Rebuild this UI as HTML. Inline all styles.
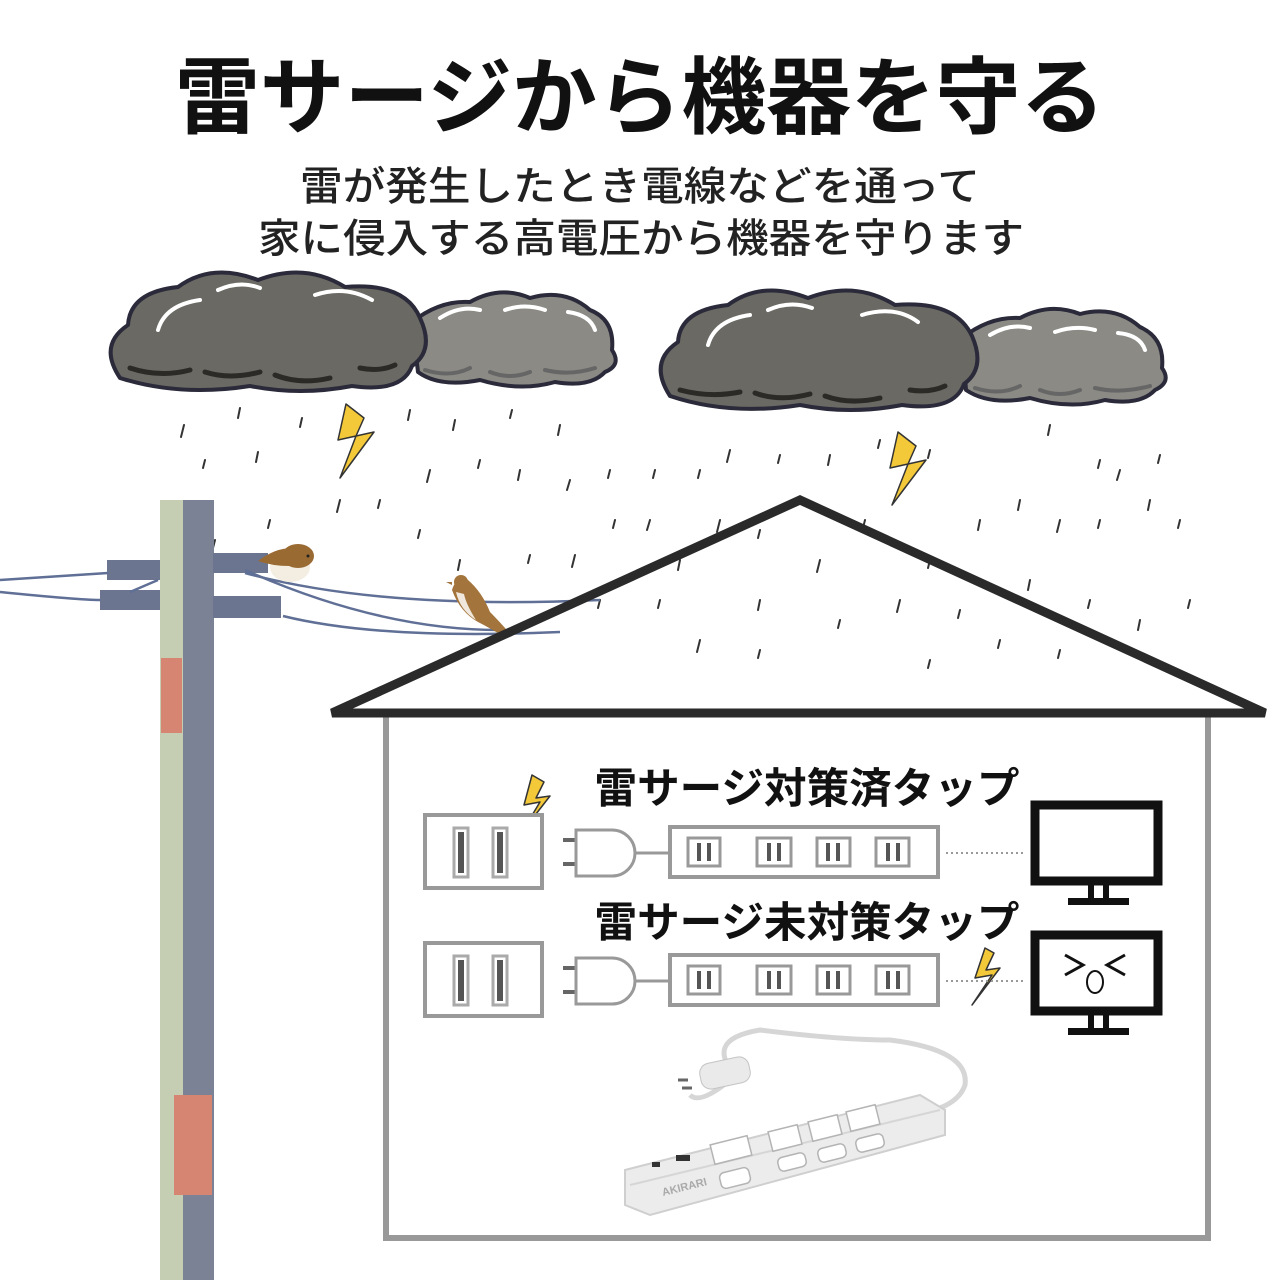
<!DOCTYPE html>
<html><head><meta charset="utf-8"><style>
html,body{margin:0;padding:0;background:#fff;}
svg{display:block}
text{font-family:"Liberation Sans","Noto Sans CJK JP",sans-serif;font-weight:bold;}
</style></head><body>
<svg width="1280" height="1280" viewBox="0 0 1280 1280" xmlns="http://www.w3.org/2000/svg">
<rect width="1280" height="1280" fill="#fff"/>
<text x="640" y="127" font-size="84" text-anchor="middle" fill="#111" textLength="930" lengthAdjust="spacingAndGlyphs">雷サージから機器を守る</text>
<text x="640" y="200" font-size="40" style="font-weight:500" text-anchor="middle" fill="#222" textLength="680" lengthAdjust="spacingAndGlyphs">雷が発生したとき電線などを通って</text>
<text x="641" y="252" font-size="40" style="font-weight:500" text-anchor="middle" fill="#222" textLength="766" lengthAdjust="spacingAndGlyphs">家に侵入する高電圧から機器を守ります</text>

<g stroke="#2a2a3a" stroke-width="4" stroke-linejoin="round">
<path d="M412,322 Q440,300 470,302 Q500,285 530,298 Q565,288 590,310 Q615,320 612,350 Q622,365 605,372 Q590,388 555,382 Q520,392 480,380 Q440,388 418,372 Z" fill="#8b8a85"/>
<path d="M120,378 Q98,345 128,325 Q130,292 178,287 Q212,262 258,280 Q305,262 345,287 Q405,282 420,318 Q435,350 412,366 Q402,393 352,386 Q300,396 250,386 Q180,397 120,378 Z" fill="#6a6963"/>
<path d="M962,338 Q990,316 1020,318 Q1050,302 1080,314 Q1115,305 1140,327 Q1165,338 1162,368 Q1172,382 1155,390 Q1140,406 1105,400 Q1070,410 1030,398 Q990,406 966,390 Z" fill="#8b8a85"/>
<path d="M670,396 Q648,362 678,342 Q680,310 728,305 Q762,280 808,298 Q855,280 895,305 Q955,300 972,336 Q986,368 964,384 Q954,412 902,405 Q850,415 800,405 Q730,416 670,396 Z" fill="#6a6963"/>
</g>
<g fill="none" stroke="#fff" stroke-width="4" stroke-linecap="round">
<path d="M158,330 Q165,305 200,300"/><path d="M218,290 Q240,280 260,288"/><path d="M315,295 Q345,285 372,300"/>
<path d="M440,318 Q460,305 480,310"/><path d="M505,310 Q525,303 545,310"/><path d="M568,312 Q590,315 595,330"/>
<path d="M708,345 Q715,320 750,315"/><path d="M768,310 Q790,300 812,308"/><path d="M862,315 Q895,305 918,322"/>
<path d="M990,335 Q1010,323 1030,328"/><path d="M1055,332 Q1075,325 1095,330"/><path d="M1118,333 Q1140,335 1145,350"/>
</g>
<g fill="none" stroke="#2b2a26" stroke-width="5" stroke-linecap="round">
<path d="M130,368 Q160,378 190,370"/><path d="M205,372 Q230,380 260,372"/><path d="M275,375 Q300,385 330,378"/><path d="M360,368 Q380,372 395,365"/>
<path d="M680,390 Q710,398 740,392"/><path d="M755,393 Q780,402 810,394"/><path d="M825,396 Q850,405 880,398"/><path d="M910,390 Q930,393 945,386"/>
</g>
<g fill="none" stroke="#666" stroke-width="4" stroke-linecap="round">
<path d="M425,370 Q450,378 470,368"/><path d="M490,372 Q510,380 530,372"/><path d="M545,370 Q570,376 595,368"/>
<path d="M975,388 Q1000,396 1020,386"/><path d="M1040,390 Q1060,398 1080,390"/><path d="M1095,388 Q1120,394 1150,386"/>
</g>

<g stroke="#333" stroke-width="2" stroke-linecap="round">
<path d="M184,425l-3,12M240,408l-2,10M302,418l-2,9M258,452l-2,10M410,410l-2,10M455,420l-2,10M512,410l-2,8M560,425l-2,10M205,460l-2,8M185,535l-3,12M215,540l-2,8M270,520l-2,8M340,500l-3,12M380,500l-2,8M430,470l-3,12M480,460l-2,8M520,470l-2,10M570,480l-3,10M610,470l-2,8M420,530l-2,8M460,560l-2,10M530,555l-2,8M575,555l-3,12M615,520l-2,8M650,520l-3,10M655,470l-2,8M700,470l-2,8M730,450l-3,12M780,455l-2,8M830,455l-2,10M880,440l-2,8M930,450l-2,8M1050,425l-2,10M1100,460l-2,8M1120,470l-3,10M1160,455l-2,8M720,520l-3,12M760,530l-2,8M820,560l-3,12M865,520l-2,8M930,560l-2,8M980,520l-2,10M1020,500l-2,10M1060,520l-3,12M1100,520l-2,8M1150,500l-2,10M1180,520l-2,8M700,640l-3,12M760,600l-2,10M840,620l-2,8M900,600l-3,12M960,610l-2,8M1030,580l-2,10M1090,600l-2,8M1140,620l-2,10M1190,600l-2,8M660,600l-2,8M600,600l-2,8M680,560l-2,10M1000,640l-2,8M1060,650l-2,8M930,660l-2,8M760,650l-2,8"/>
</g>
<g fill="#f3c93a" stroke="#333" stroke-width="1.5" stroke-linejoin="round">
<path d="M346,404 L338,440 L356,436 L340,478 L374,432 L356,436 L364,418 Z"/>
<path d="M898,432 L890,468 L908,464 L892,505 L926,460 L908,464 L916,446 Z"/>
<path d="M532,775 L524,805 L540,802 L522,832 L550,796 L536,798 L544,782 Z"/>
<path d="M985,948 L975,978 L992,975 L972,1005 L1000,968 L986,970 L994,953 Z"/>
</g>

<rect x="160" y="500" width="26" height="780" fill="#c5ceb2"/>
<rect x="183" y="500" width="31" height="780" fill="#7b8296"/>
<rect x="161" y="658" width="21" height="75" fill="#d58572"/>
<rect x="174" y="1095" width="38" height="100" fill="#d58572"/>
<g fill="#6b7590">
<rect x="107" y="560" width="53" height="20"/>
<rect x="213" y="553" width="55" height="20"/>
<rect x="100" y="590" width="60" height="20"/>
<rect x="213" y="596" width="68" height="22"/>
</g>
<g fill="none" stroke="#5f6f95" stroke-width="2.5">
<path d="M0,580 Q60,576 108,573"/><path d="M0,592 Q80,600 100,600"/>
<path d="M245,573 Q380,610 600,600"/><path d="M245,570 Q380,630 500,630"/>
<path d="M283,616 Q380,640 560,632"/><path d="M130,592 L158,580"/>
</g>
<!-- bird 1 -->
<g>
<ellipse cx="290" cy="567" rx="20" ry="15" fill="#f3ede2"/>
<path d="M258,561 Q275,548 292,548 Q300,560 290,566 Q272,566 258,561Z" fill="#9a6a33"/>
<ellipse cx="298" cy="556" rx="16" ry="12" fill="#9a6a33"/>
<circle cx="308" cy="556" r="1.5" fill="#222"/>
</g>
<!-- bird 2 -->
<g>
<path d="M452,590 Q456,576 468,580 Q482,592 490,612 Q500,622 512,636 L506,638 Q490,628 478,622 Q460,612 452,590Z" fill="#a3743c"/>
<path d="M456,592 Q460,610 476,620 Q466,604 464,594Z" fill="#f0e8dc"/>
<circle cx="461" cy="582" r="7" fill="#a3743c"/>
<path d="M452,582 l-6,0 l6,3z" fill="#a3743c"/>
</g>

<polyline points="386,713 386,1238 1208,1238 1208,713" fill="none" stroke="#999" stroke-width="6"/>
<path d="M332,713 L800,500 L1265,713 Z" fill="none" stroke="#2a2a2a" stroke-width="9" stroke-linejoin="miter"/>

<text x="807" y="803" font-size="42" text-anchor="middle" fill="#111" textLength="425" lengthAdjust="spacingAndGlyphs">雷サージ対策済タップ</text>
<text x="807" y="937" font-size="42" text-anchor="middle" fill="#111" textLength="425" lengthAdjust="spacingAndGlyphs">雷サージ未対策タップ</text>

<g id="row">
<rect x="425" y="815" width="117" height="73" fill="#fff" stroke="#999" stroke-width="4"/>
<rect x="454" y="828" width="14" height="49" fill="#fff" stroke="#aaa" stroke-width="3"/><rect x="458" y="832" width="6" height="41" fill="#555"/>
<rect x="493" y="828" width="14" height="49" fill="#fff" stroke="#aaa" stroke-width="3"/><rect x="497" y="832" width="6" height="41" fill="#555"/>
<path d="M563,840 H576 M563,864 H576" stroke="#666" stroke-width="4"/>
<path d="M576,830 H612 A22,22 0 0 1 612,876 H576 Z" fill="#fff" stroke="#999" stroke-width="3"/>
<path d="M634,853 H668" stroke="#999" stroke-width="3"/>
<rect x="670" y="827" width="268" height="50" fill="#fff" stroke="#999" stroke-width="4"/>
<g fill="#fff" stroke="#999" stroke-width="3">
<rect x="688" y="838" width="32" height="28"/><rect x="757" y="838" width="34" height="28"/><rect x="817" y="838" width="33" height="28"/><rect x="876" y="838" width="33" height="28"/>
</g>
<g fill="#555"><rect x="697" y="843" width="4" height="18"/><rect x="707" y="843" width="4" height="18"/><rect x="767" y="843" width="4" height="18"/><rect x="777" y="843" width="4" height="18"/><rect x="826" y="843" width="4" height="18"/><rect x="836" y="843" width="4" height="18"/><rect x="886" y="843" width="4" height="18"/><rect x="896" y="843" width="4" height="18"/></g>
<path d="M946,853 H1026" stroke="#999" stroke-width="2" stroke-dasharray="2,3"/>
</g>
<rect x="1035" y="805" width="123" height="76" fill="#fff" stroke="#111" stroke-width="9"/>
<rect x="1088" y="882" width="6" height="18" fill="#111"/><rect x="1103" y="882" width="6" height="18" fill="#111"/><rect x="1068" y="898" width="61" height="7" fill="#111"/>

<use href="#row" transform="translate(0,128)"/>
<rect x="1035" y="935" width="123" height="76" fill="#fff" stroke="#111" stroke-width="9"/>
<rect x="1088" y="1012" width="6" height="18" fill="#111"/><rect x="1103" y="1012" width="6" height="18" fill="#111"/><rect x="1068" y="1028" width="61" height="7" fill="#111"/>
<path d="M1065,955 L1083,965 L1065,975 M1125,955 L1107,965 L1125,975" fill="none" stroke="#111" stroke-width="3"/>
<ellipse cx="1095" cy="982" rx="8" ry="11" fill="#fff" stroke="#111" stroke-width="2"/>

<g>
<path d="M740,1080 Q700,1040 760,1030 Q840,1040 890,1040 Q970,1050 965,1085 Q960,1100 940,1108" fill="none" stroke="#d6d6d6" stroke-width="5"/>
<path d="M730,1080 Q700,1105 690,1095" fill="none" stroke="#d6d6d6" stroke-width="5"/>
<rect x="700" y="1060" width="50" height="26" rx="10" fill="#eaeaea" stroke="#c4c4c4" transform="rotate(-12 725 1073)"/>
<path d="M678,1080 h10 M682,1088 h10" stroke="#666" stroke-width="3"/>
<path d="M625,1170 L920,1095 L945,1110 L945,1135 L650,1215 L625,1205 Z" fill="#ececec" stroke="#cfcfcf" stroke-width="2"/>
<path d="M630,1185 L940,1110" stroke="#d6d6d6" stroke-width="2"/>
<g fill="#fff" stroke="#b4b4b4" stroke-width="1.5">
<rect x="712" y="1140" width="38" height="20" transform="rotate(-14 731 1150)"/>
<rect x="770" y="1128" width="30" height="20" transform="rotate(-14 785 1138)"/>
<rect x="810" y="1118" width="30" height="20" transform="rotate(-14 825 1128)"/>
<rect x="848" y="1108" width="30" height="20" transform="rotate(-14 863 1118)"/>
<rect x="720" y="1170" width="30" height="16" rx="5" transform="rotate(-14 735 1178)"/>
<rect x="778" y="1155" width="28" height="14" rx="5" transform="rotate(-14 792 1162)"/>
<rect x="818" y="1146" width="28" height="14" rx="5" transform="rotate(-14 832 1153)"/>
<rect x="856" y="1136" width="28" height="14" rx="5" transform="rotate(-14 870 1143)"/>
</g>
<rect x="652" y="1162" width="8" height="5" fill="#333"/><rect x="676" y="1155" width="14" height="6" fill="#333"/>
<text x="663" y="1196" font-size="11" fill="#aaa" transform="rotate(-14 663 1196)">AKIRARI</text>
</g>
</svg>
</body></html>
